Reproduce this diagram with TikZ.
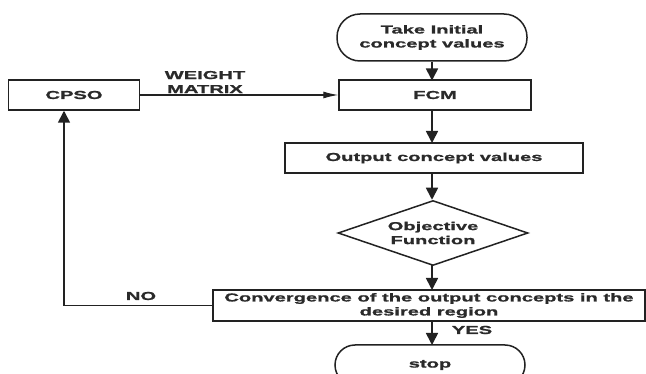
\documentclass[tikz,border=0pt]{standalone}
\usepackage{fontspec}
\newfontfamily\diafont[FakeStretch=1.75,FakeBold=1.2]{Liberation Sans}
\usetikzlibrary{shapes.geometric,arrows.meta}
\definecolor{ink}{HTML}{222222}
\definecolor{txt}{HTML}{2A2A2A}
\begin{document}
\begin{tikzpicture}[x=1pt,y=-1pt,
  every node/.style={font=\diafont\bfseries\fontsize{11.5}{14}\selectfont, text=txt},
  box/.style={draw=ink, line width=1.5pt, rectangle, minimum height=30pt, inner sep=0pt},
  term/.style={draw=ink, line width=1.5pt, rectangle, rounded corners=23pt, minimum width=190pt, minimum height=47pt, align=center, inner sep=0pt},
  dia/.style={draw=ink, line width=1.5pt, diamond, minimum width=190pt, minimum height=65pt, aspect=2.9, inner sep=0pt, align=center},
  flow/.style={draw=ink, line width=1.7pt, -{Triangle[length=12pt,width=12pt]}},
  thin/.style={draw=ink, line width=1.1pt, -{Latex[length=15pt,width=7pt]}},
  lbl/.style={align=center, inner sep=0pt}
]
\clip (0,0) rectangle (646,374);
\fill[white] (0,0) rectangle (646,374);

\node[term] (start) at (432,37.5) {Take Initial\\concept values};
\node[box, minimum width=192pt] (fcm) at (435,95) {FCM};
\node[box, minimum width=131pt] (cpso) at (74,95) {CPSO};
\node[box, minimum width=298pt] (out) at (434,158) {Output concept values};
\node[dia] (obj) at (433,233) {Objective\\Function};
\node[box, minimum width=432pt, minimum height=31pt, align=center] (conv) at (429,305.5) {Convergence of the output concepts in the\\desired region};
\node[term, minimum height=40pt, rounded corners=20pt] (stop) at (430,365) {stop};

\node[lbl] (wm) at (205,82) {WEIGHT\\MATRIX};
\node[lbl] (no) at (141,296) {NO};
\node[lbl] (yes) at (472,330) {YES};

\coordinate (nocorner) at (64,305.5);

\draw[flow] (start.south -| 432,0) -- (432,80.5);
\draw[flow] (432,110) -- (432,143);
\draw[flow] (432,173) -- (obj.north -| 432,0);
\draw[flow] (432,265.5) -- (432,290);
\draw[flow] (432,321) -- (432,345);
\draw[thin] (cpso.east) -- (fcm.west);
\draw[flow] (conv.west) -- (nocorner) -- (nocorner |- cpso.south);
\end{tikzpicture}
\end{document}
